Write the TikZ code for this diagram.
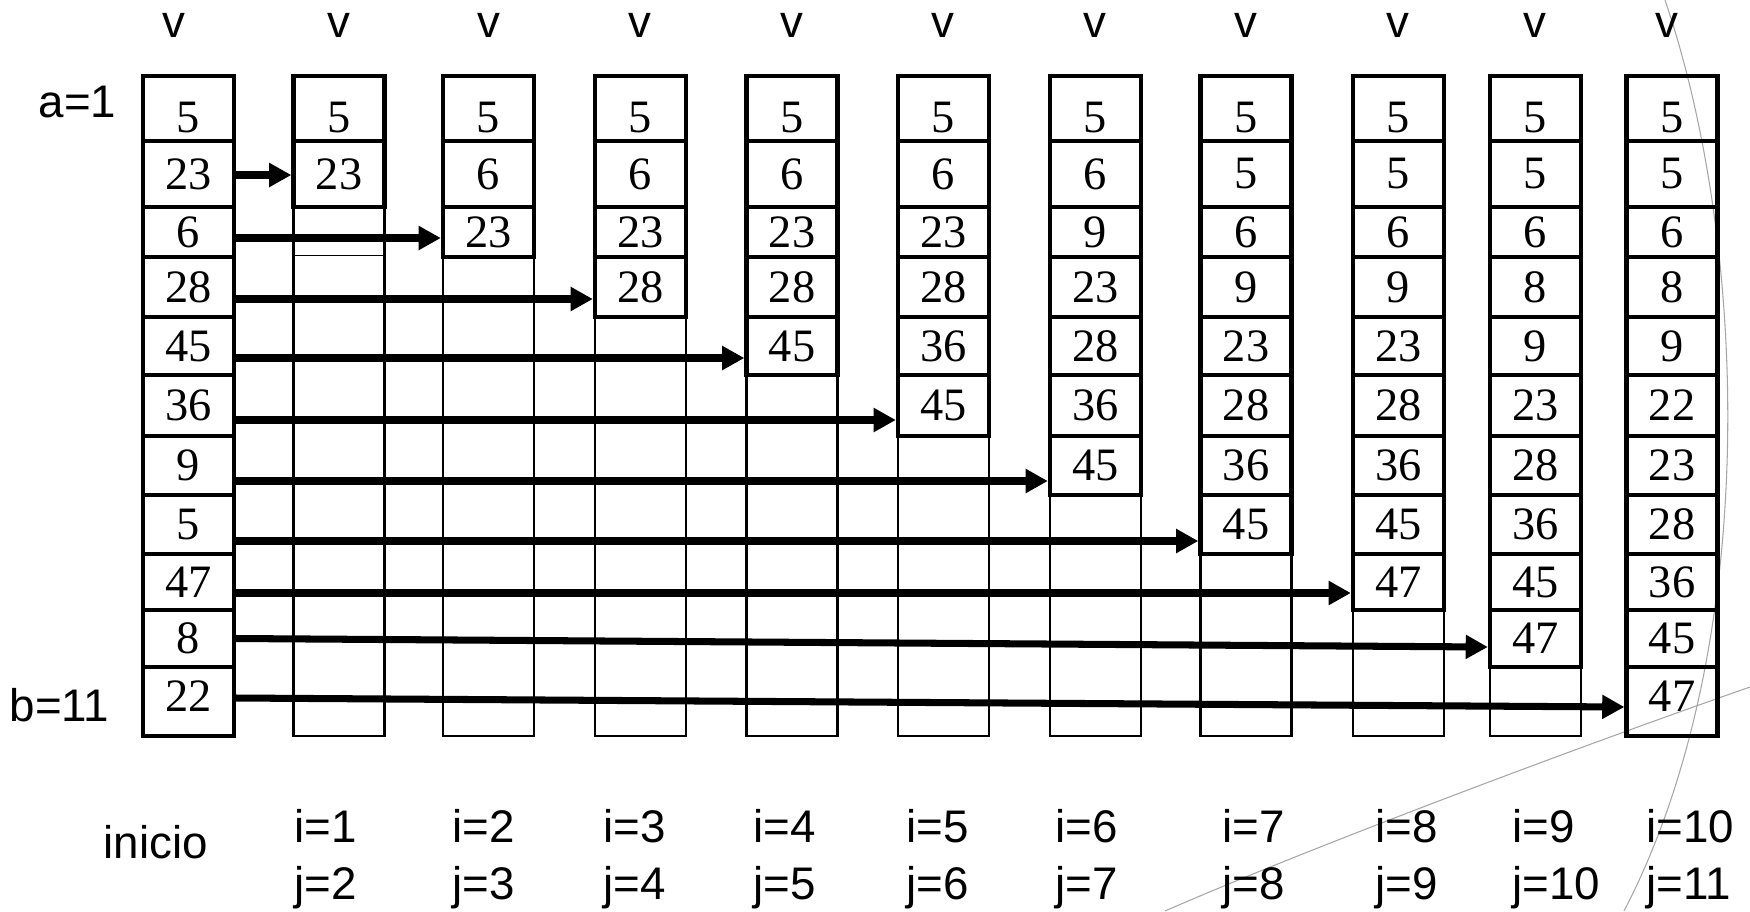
\documentclass[tikz,border=0pt]{standalone}
\usepackage{fontspec}
\setmainfont{Liberation Serif}
\setsansfont{Liberation Sans}
\usetikzlibrary{arrows.meta,calc}

% left edges of the columns and the row lines (in pixels)
\def\colx{{143,293.5,443,595,746.5,898,1050,1200.5,1353,1490,1626.5}}
\def\rowy{{76,141,207,257,317,375,436,495,554,610,667,736}}

\begin{document}
\begin{tikzpicture}[
  x=0.01cm, y=-0.01cm,
  cell/.style={draw, line width=1.2pt, minimum width=0.91cm, inner sep=0pt,
               font=\fontsize{13.2}{15}\selectfont},
  row1/.style={text height=14pt},
  row11/.style={text depth=2.8pt},
  slot/.style={draw, line width=0.6pt, minimum width=0.91cm,
               minimum height=6.6cm, inner sep=0pt},
  lbl/.style={font=\sffamily\fontsize{13}{15}\selectfont, inner sep=0pt},
  arrow/.style={-{Triangle[length=6.3pt,width=6.5pt]}, line width=2pt},
  stray/.style={draw=gray!70, line width=0.3pt}
]
\useasboundingbox (0,0) rectangle (1750,911);

% stray curves
\draw[stray] (1665,0) .. controls (1750,250) and (1760,650) .. (1624,911);
\draw[stray] (1165,911) .. controls (1300,852) and (1550,757) .. (1750,687);

% empty slots
\foreach \c in {2,...,10}{
  \pgfmathsetmacro\xc{\colx[\c-1]+45.5}
  \node[slot] (slot\c) at (\xc,406) {};
}
\draw[line width=0.4pt] ($(slot2.north west)+(0,181)$) -- ($(slot2.north east)+(0,181)$);

% filled cells
\foreach \c/\vals in {1/{5,23,6,28,45,36,9,5,47,8,22},
                      2/{5,23},
                      3/{5,6,23},
                      4/{5,6,23,28},
                      5/{5,6,23,28,45},
                      6/{5,6,23,28,36,45},
                      7/{5,6,9,23,28,36,45},
                      8/{5,5,6,9,23,28,36,45},
                      9/{5,5,6,9,23,28,36,45,47},
                      10/{5,5,6,8,9,23,28,36,45,47},
                      11/{5,5,6,8,9,22,23,28,36,45,47}}{
  \pgfmathsetmacro\xc{\colx[\c-1]+45.5}
  \foreach \v [count=\r] in \vals {
    \pgfmathsetmacro\ya{\rowy[\r-1]}
    \pgfmathsetmacro\yb{\rowy[\r]}
    \pgfmathsetmacro\h{(\yb-\ya)*0.01}
    \pgfmathsetmacro\ym{(\ya+\yb)/2}
    \node[cell, row\r/.try, minimum height=\h cm] (v\c-\r) at (\xc,\ym) {\v};
  }
}

% labels
\foreach \c/\x in {1/174,2/339,3/489,4/640,5/792,6/943,7/1095,8/1246,9/1398,10/1535,11/1667}
  \node[lbl, anchor=base] (top\c) at (\x,37) {v};
\node[lbl, anchor=base east] (alab) at (117,117) {a=1};
\node[lbl, anchor=base east] (blab) at (110,721) {b=11};
\node[lbl, anchor=base west] (start) at (103,858) {inicio};
\foreach \c/\x in {2/293.5,3/452,4/602.5,5/753,6/906,7/1055,8/1222,9/1375,10/1512,11/1646}{
  \pgfmathtruncatemacro\i{\c-1}
  \node[lbl, anchor=base west] (ilab\c) at (\x,842) {i=\i};
  \node[lbl, anchor=base west] (jlab\c) at (\x,899) {j=\c};
}

% moves
\foreach \k/\s/\e in {2/1/1, 3/6/6, 4/12/12, 5/12/12, 6/14.5/14.5, 7/15.5/15.5,
                      8/16.5/16.5, 9/11/11, 10/0/8.5, 11/-3.5/5.5}
  \draw[arrow] ($(v1-\k.east)+(0,\s)$) -- ($(v\k-\k.west)+(0,\e)$);

\end{tikzpicture}
\end{document}
